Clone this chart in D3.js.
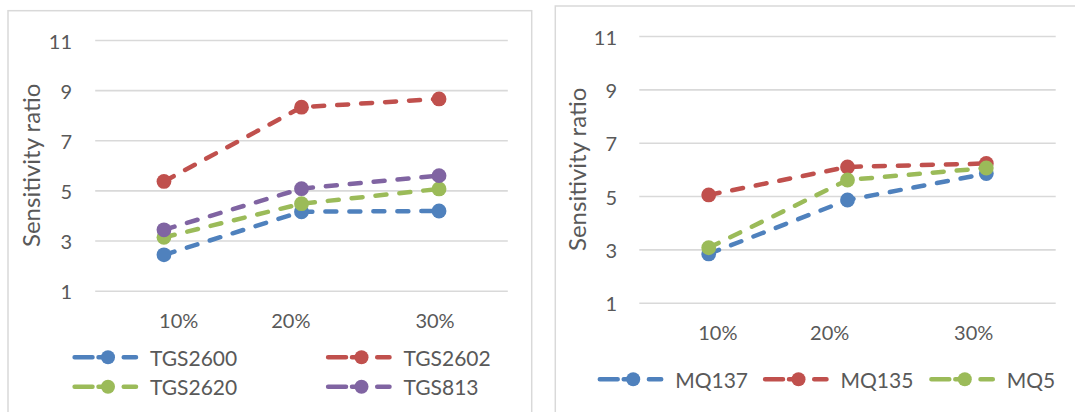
<!DOCTYPE html>
<html>
<head>
<meta charset="utf-8">
<script src="https://cdn.jsdelivr.net/npm/d3@7"></script>
<style>
  html, body { margin: 0; padding: 0; background: #fff; }
  svg { display: block; }
  text { font-family: Lato, "Open Sans", sans-serif; fill: #595959; }
</style>
</head>
<body>
<svg id="chart" width="1075" height="412"></svg>
<script>
// ---------- data ----------
const categories = ["10%", "20%", "30%"];
const yTicks = [1, 3, 5, 7, 9, 11];
const yTitle = "Sensitivity ratio";

const tgsNames = ["TGS2600", "TGS2602", "TGS2620", "TGS813"];
const tgs2600 = [2.43, 4.15, 4.18];
const tgs2602 = [5.36, 8.32, 8.65];
const tgs2620 = [3.13, 4.47, 5.06];
const tgs813  = [3.43, 5.07, 5.59];

const mqNames = ["MQ137", "MQ135", "MQ5"];
const mq137 = [2.83, 4.85, 5.84];
const mq135 = [5.04, 6.09, 6.22];
const mq5   = [3.06, 5.60, 6.05];

// ---------- styles ----------
const seriesColors = ["#4F81BD", "#C0504D", "#9BBB59", "#8064A2"];
const gridColor = "#D9D9D9";

const panels = [
  {
    names: tgsNames,
    values: [tgs2600, tgs2602, tgs2620, tgs813],
    border: { x: 8, y: 10.7, w: 523.7, h: 420 },
    xRange: [95.2, 507.8],
    yRange: [290.7, 40],
    tickRight: 72,
    titleX: 30.3,
    catLabelY: 320,
    catNudge: [14.7, -10.7, -4],
    legend: [ {x: 72.4, y: 357.3}, {x: 325.9, y: 357.3}, {x: 72.4, y: 386.7}, {x: 325.9, y: 386.7} ]
  },
  {
    names: mqNames,
    values: [mq137, mq135, mq5],
    border: { x: 555.3, y: 6, w: 540, h: 420 },
    xRange: [639.3, 1055.7],
    yRange: [302.7, 36],
    tickRight: 617,
    titleX: 576.9,
    catLabelY: 331.7,
    catNudge: [9.1, -17.8, -12.6],
    legend: [ {x: 597.6, y: 379.3}, {x: 762.9, y: 379.3}, {x: 929.2, y: 379.3} ]
  }
];

const svg = d3.select("#chart");
const lineW = 4.5, markerR = 7.4;

panels.forEach(p => {
  const g = svg.append("g");
  // border
  g.append("rect")
    .attr("x", p.border.x).attr("y", p.border.y)
    .attr("width", p.border.w).attr("height", p.border.h)
    .attr("fill", "none").attr("stroke", gridColor).attr("stroke-width", 1.5);

  const x = d3.scaleBand().domain(categories).range(p.xRange);
  const y = d3.scaleLinear().domain([1, 11]).range(p.yRange);

  // gridlines + y tick labels via axis
  const yAxis = d3.axisLeft(y).tickValues(yTicks).tickSize(-(p.xRange[1] - p.xRange[0])).tickPadding(0);
  const ya = g.append("g").attr("transform", `translate(${p.xRange[0]},0)`).call(yAxis);
  ya.select(".domain").remove();
  ya.selectAll(".tick line").attr("stroke", gridColor).attr("stroke-width", 1.6);
  ya.selectAll(".tick text")
    .attr("x", p.tickRight - p.xRange[0]).attr("dy", null)
    .attr("dominant-baseline", "central")
    .attr("text-anchor", "end")
    .style("font-size", "20px").style("font-family", "Lato").attr("fill", "#595959");

  // y title
  const titleY = (p.yRange[0] + p.yRange[1]) / 2;
  g.append("text")
    .attr("transform", `translate(${p.titleX},${titleY}) rotate(-90)`)
    .attr("text-anchor", "middle").attr("dominant-baseline", "central")
    .style("font-size", "24px")
    .text(yTitle);

  // category labels (axis without lines)
  const xAxis = d3.axisBottom(x).tickSize(0).tickPadding(0);
  const xa = g.append("g").attr("transform", `translate(0,${p.catLabelY})`).call(xAxis);
  xa.select(".domain").remove();
  xa.selectAll(".tick text")
    .attr("x", (d, i) => p.catNudge[i]).attr("y", 0).attr("dy", null)
    .attr("dominant-baseline", "central")
    .style("font-size", "20px").style("font-family", "Lato").attr("fill", "#595959");

  // series
  const line = d3.line().x((d, i) => x(categories[i]) + x.bandwidth() / 2).y(d => y(d));
  p.values.forEach((vals, si) => {
    const col = seriesColors[si];
    g.append("path").datum(vals)
      .attr("d", line).attr("fill", "none")
      .attr("stroke", col).attr("stroke-width", lineW)
      .attr("stroke-dasharray", "11 13").attr("stroke-linecap", "round");
    g.selectAll(null).data(vals).enter().append("circle")
      .attr("cx", (d, i) => x(categories[i]) + x.bandwidth() / 2)
      .attr("cy", d => y(d)).attr("r", markerR).attr("fill", col);
  });

  // legend
  p.names.forEach((name, si) => {
    const pos = p.legend[si], col = seriesColors[si];
    const lg = g.append("g").attr("transform", `translate(${pos.x},${pos.y})`);
    lg.append("line").attr("x1", 2.2).attr("x2", 63.6).attr("y1", 0).attr("y2", 0)
      .attr("stroke", col).attr("stroke-width", lineW).attr("stroke-linecap", "round")
      .attr("stroke-dasharray", "17.9 6 12 13.2 12.3");
    lg.append("circle").attr("cx", 35.6).attr("cy", 0).attr("r", 7).attr("fill", col);
    lg.append("text").attr("x", 77.6).attr("y", 0).attr("dominant-baseline", "central")
      .style("font-size", "21px").text(name);
  });
});
</script>
</body>
</html>
